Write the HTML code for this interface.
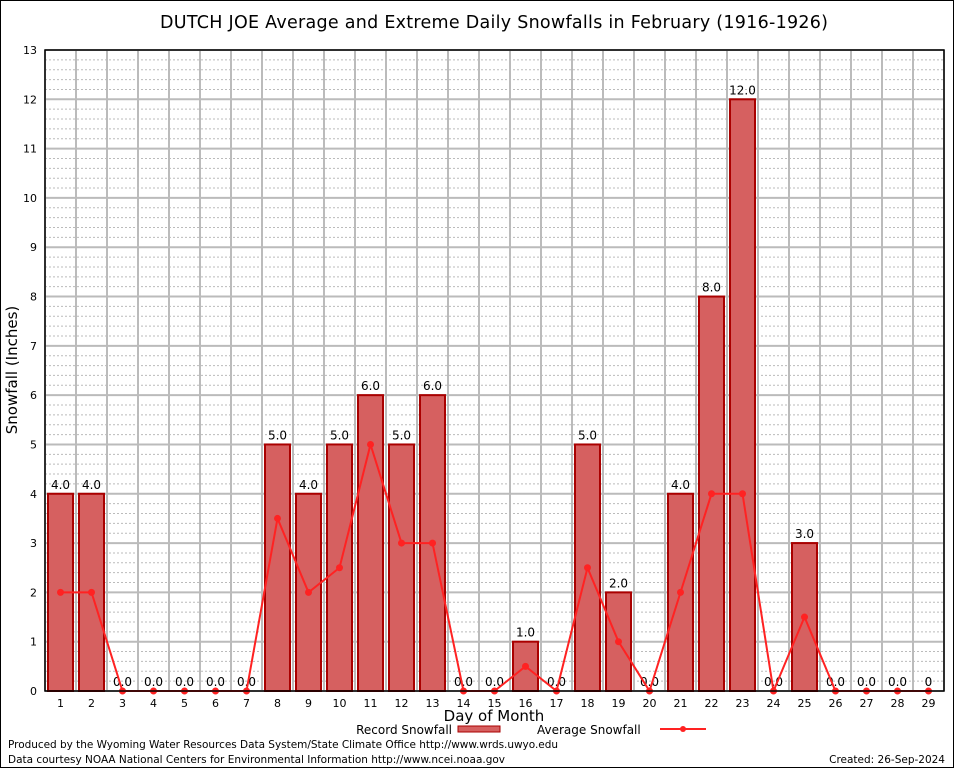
<!DOCTYPE html>
<html><head><meta charset="utf-8"><style>
body{margin:0;background:#fff}
svg text{font-family:"DejaVu Sans","Liberation Sans",sans-serif}
</style></head><body>
<svg id="c" width="954" height="768" xmlns="http://www.w3.org/2000/svg">
<rect x="0.5" y="0.5" width="953" height="767" fill="#fff" stroke="#000"/>
<text x="494" y="28" font-size="17.5" text-anchor="middle" textLength="668">DUTCH JOE Average and Extreme Daily Snowfalls in February (1916-1926)</text>
<g id="grid"></g>
<g id="bars"></g>
<g id="avg"></g>
<g id="axes"></g>
<text transform="translate(17,370) rotate(-90)" font-size="15" text-anchor="middle">Snowfall (Inches)</text>
<text x="494" y="721" font-size="15" text-anchor="middle">Day of Month</text>
<g><text x="452" y="734" font-size="12" text-anchor="end">Record Snowfall</text><rect x="458" y="726" width="42" height="6" fill="#d66060" stroke="#a00"/></g>
<g><text x="537" y="734" font-size="12">Average Snowfall</text><line x1="660" y1="729" x2="706" y2="729" stroke="#f22" stroke-width="2"/><circle cx="683" cy="729" r="3" fill="#f22"/></g>
<text x="8" y="748" font-size="10.5" textLength="550">Produced by the Wyoming Water Resources Data System/State Climate Office http://www.wrds.uwyo.edu</text>
<text x="8" y="763" font-size="10.5" textLength="497">Data courtesy NOAA National Centers for Environmental Information http://www.ncei.noaa.gov</text>
<text x="945" y="763" font-size="10.5" text-anchor="end">Created:  26-Sep-2024</text>
</svg>
<script>
const days=[1,2,3,4,5,6,7,8,9,10,11,12,13,14,15,16,17,18,19,20,21,22,23,24,25,26,27,28,29];
const recordVals=[4,4,0,0,0,0,0,5,4,5,6,5,6,0,0,1,0,5,2,0,4,8,12,0,3,0,0,0,0];
const avgVals=[2,2,0,0,0,0,0,3.5,2,2.5,5,3,3,0,0,0.5,0,2.5,1,0,2,4,4,0,1.5,0,0,0,0];
const yTicks=[0,1,2,3,4,5,6,7,8,9,10,11,12,13];
const NS='http://www.w3.org/2000/svg';
const L=45,R=944,T=50,B=691,YMAX=13;
const xs=d=>L+(R-L)/29*(d-0.5);
const ys=v=>B-(B-T)*v/YMAX;
function mk(p,t,a){const e=document.createElementNS(NS,t);for(const k in a)e.setAttribute(k,a[k]);document.getElementById(p).appendChild(e);return e;}
mk('grid','rect',{x:L,y:T,width:R-L,height:B-T,fill:'#fff'});
for(let v=0;v<YMAX;v+=0.2){const e=mk('grid','line',{x1:L,x2:R,y1:ys(v),y2:ys(v),stroke:'#bbb','stroke-dasharray':'2,2','stroke-width':1});}
for(let i=0;i<=29;i++){const x=L+(R-L)/29*i;const e=mk('grid','line',{x1:x,x2:x,y1:T,y2:B,stroke:'#bbb','stroke-width':2});}
yTicks.forEach(v=>{const e=mk('grid','line',{x1:L,x2:R,y1:ys(v),y2:ys(v),stroke:'#bbb','stroke-width':2});
const t=mk('axes','text',{x:L-8,y:ys(v)+4,'font-size':11,'text-anchor':'end','font-family':'Liberation Serif,serif'});t.textContent=v;});
mk('axes','rect',{x:L,y:T,width:R-L,height:B-T,fill:'none',stroke:'#000','stroke-width':1.5});
days.forEach((d,i)=>{const x=xs(d);
const t=mk('axes','text',{x:x,y:B+16,'font-size':11,'text-anchor':'middle','font-family':'Liberation Serif,serif'});t.textContent=d;
const v=recordVals[i];
if(v>0){const b=mk('bars','rect',{x:Math.round(x-13),y:ys(v),width:25,height:B-ys(v),fill:'#d66060',stroke:'#a00','stroke-width':2});}
const lb=mk('bars','text',{x:x,y:ys(v)-5,'font-size':12,'text-anchor':'middle'});lb.textContent=(d===29?'0':v.toFixed(1));});
const pl=mk('avg','polyline',{points:days.map((d,i)=>xs(d)+','+ys(avgVals[i])).join(' '),fill:'none',stroke:'#f22','stroke-width':2});

days.forEach((d,i)=>{const c=mk('avg','circle',{cx:xs(d),cy:ys(avgVals[i]),r:3.5,fill:'#f22'});});
</script>
</body></html>
